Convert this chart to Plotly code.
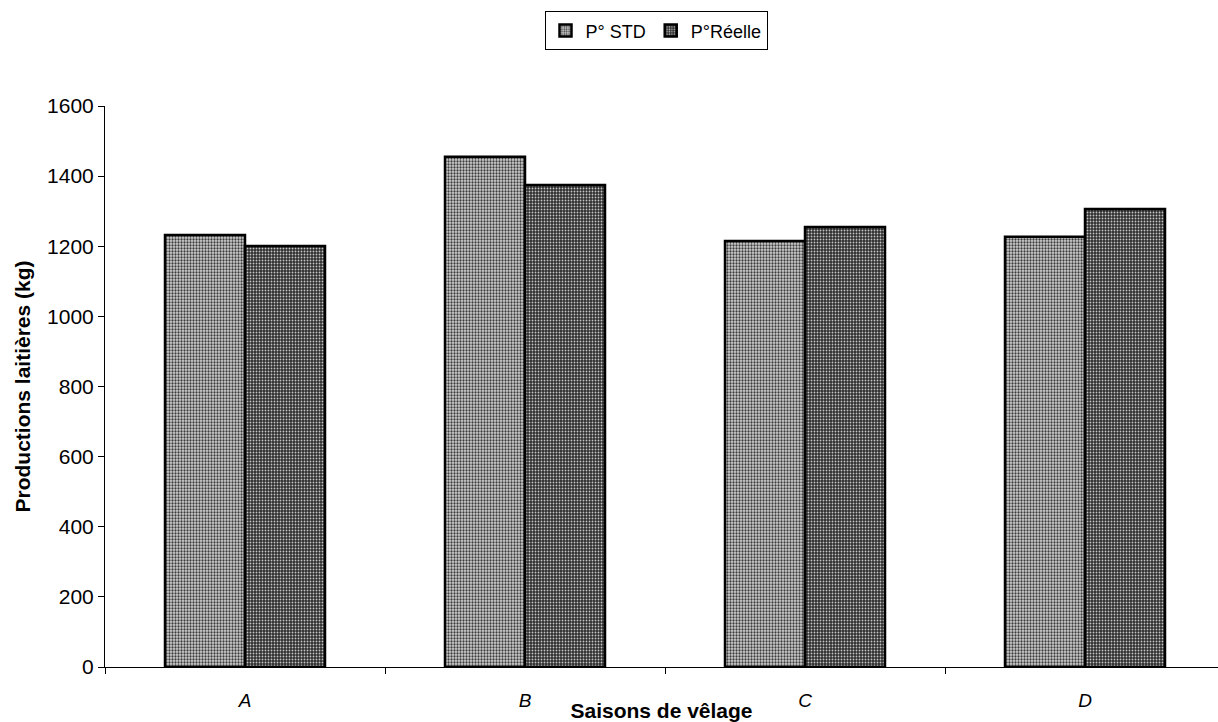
import plotly.graph_objects as go

categories = ["A", "B", "C", "D"]
std_values = [1232, 1455, 1215, 1227]
reelle_values = [1201, 1375, 1255, 1306]
y_ticks = [0, 200, 400, 600, 800, 1000, 1200, 1400, 1600]

FONT = "Liberation Sans, Arial, sans-serif"

fig = go.Figure()
fig.add_trace(go.Bar(
    x=categories, y=std_values, name="P° STD",
    marker=dict(
        color="#c8c8c8",
        line=dict(color="black", width=2.5),
        pattern=dict(shape=".", fillmode="replace", bgcolor="#d2d2d2",
                     fgcolor="#3c3c3c", size=3, solidity=0.45),
    ),
))
fig.add_trace(go.Bar(
    x=categories, y=reelle_values, name="P°Réelle",
    marker=dict(
        color="#404040",
        line=dict(color="black", width=2.5),
        pattern=dict(shape=".", fillmode="replace", bgcolor="#2e2e2e",
                     fgcolor="#c4c4c4", size=3, solidity=0.3),
    ),
))

fig.update_layout(
    width=1218, height=722,
    margin=dict(l=105, r=0, t=106, b=55),
    paper_bgcolor="white", plot_bgcolor="white",
    barmode="group", bargap=0.4286, bargroupgap=0,
    font=dict(family=FONT, size=18, color="black"),
    showlegend=True,
    legend=dict(
        orientation="h", x=(656 - 105) / 1113, xanchor="center", y=1.134, yanchor="middle",
        bordercolor="black", borderwidth=1, bgcolor="white",
        font=dict(size=18), itemwidth=30, tracegroupgap=0,
    ),
    xaxis=dict(
        range=[-0.5, 3.475], automargin=False,
        showline=True, linecolor="black", linewidth=1,
        ticks="outside", tickson="boundaries", ticklen=6, tickcolor="black",
        tickfont=dict(size=19, style="italic"),
        ticklabelstandoff=16,
        title=dict(text="<b>Saisons de vêlage</b>", font=dict(size=21), standoff=13),
        showgrid=False,
    ),
    yaxis=dict(
        range=[0, 1600], tickvals=y_ticks, automargin=False,
        showline=True, linecolor="black", linewidth=1,
        ticks="outside", ticklen=6, tickcolor="black",
        tickfont=dict(size=21),
        title=dict(text="<b>Productions laitières (kg)</b>", font=dict(size=21), standoff=10),
        showgrid=False, zeroline=False,
    ),
)

fig.write_html("out.html")
